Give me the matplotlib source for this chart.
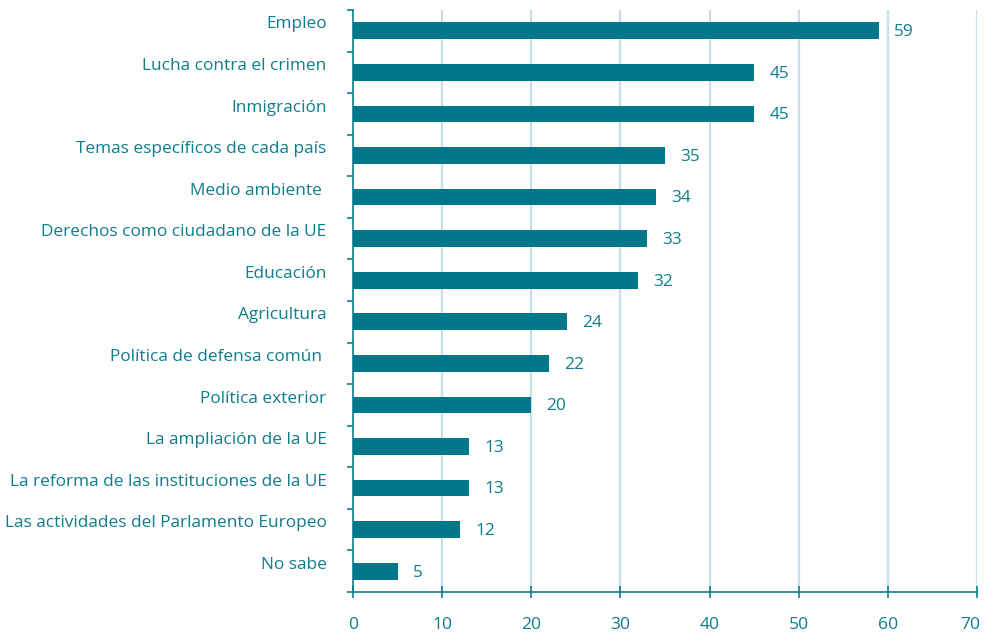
import matplotlib.pyplot as plt
import matplotlib.transforms as mtransforms
import numpy as np

categories = [
    "Empleo",
    "Lucha contra el crimen",
    "Inmigración",
    "Temas específicos de cada país",
    "Medio ambiente ",
    "Derechos como ciudadano de la UE",
    "Educación",
    "Agricultura",
    "Política de defensa común ",
    "Política exterior",
    "La ampliación de la UE",
    "La reforma de las instituciones de la UE",
    "Las actividades del Parlamento Europeo",
    "No sabe",
]
values = [59, 45, 45, 35, 34, 33, 32, 24, 22, 20, 13, 13, 12, 5]
xticks = [0, 10, 20, 30, 40, 50, 60, 70]

bar_color = "#00788A"
text_color = "#0E7D8C"
grid_color = "#C6DEE7"

plt.rcParams['font.family'] = ['Open Sans', 'DejaVu Sans']

fig = plt.figure(figsize=(9.84, 6.36), dpi=100)
ax = fig.add_axes([0.3587, 0.0692, 0.6342, 0.9151])

n = len(categories)
ypos = np.arange(n)
ax.barh(ypos, values, height=0.40, color=bar_color, zorder=3)

ax.set_xlim(0, 70)
ax.set_ylim(n - 0.5, -0.5)

ax.set_xticks(xticks)
ax.set_xticklabels([str(t) for t in xticks])
for t in xticks[1:]:
    ax.axvline(t, color=grid_color, lw=1.6, zorder=1)

ax.set_yticks(ypos)
ax.set_yticklabels(categories)
ax.set_yticks(np.arange(n + 1) - 0.5, minor=True)
ax.tick_params(axis='y', which='major', length=0, pad=19, labelsize=12.4, labelcolor=text_color)
ax.tick_params(axis='y', which='minor', length=4, width=1.2, color=text_color)
ax.tick_params(axis='x', length=8, width=1.2, direction='inout', color=text_color,
               pad=14, labelsize=12.6, labelcolor=text_color)

offset = mtransforms.ScaledTranslation(0, 6 / 72, fig.dpi_scale_trans)
for lab in ax.get_yticklabels():
    lab.set_transform(lab.get_transform() + offset)

# keep the last x label inside the figure
last = ax.get_xticklabels()[-1]
last.set_transform(last.get_transform() + mtransforms.ScaledTranslation(-5 / 72, 0, fig.dpi_scale_trans))

for s in ['top', 'right']:
    ax.spines[s].set_visible(False)
for s in ['left', 'bottom']:
    ax.spines[s].set_color(text_color)
    ax.spines[s].set_linewidth(1.2)

for y, v in zip(ypos, values):
    ax.annotate(str(v), (v, y), xytext=(11, -1), textcoords='offset points',
                va='center', ha='left', fontsize=12.4, color=text_color)

fig.savefig("out.png", dpi=100)
